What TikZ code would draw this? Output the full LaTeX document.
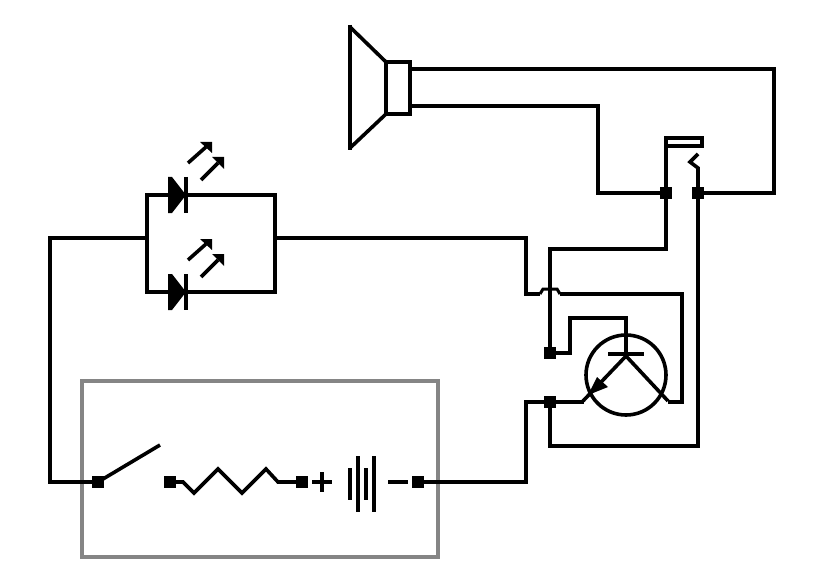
\documentclass[tikz,border=0pt]{standalone}
\begin{document}
\begin{tikzpicture}[x=1pt,y=-1pt,
  wire/.style={line width=4pt,draw=black,line join=miter},
  thin wire/.style={line width=3.6pt,draw=black,line join=miter},
  dot/.style={draw=none,fill=black,minimum size=12pt,inner sep=0pt,outer sep=0pt,rectangle},
  frame/.style={line width=3.4pt,draw=boxgray},
  head/.style={fill=black,draw=none}]
\definecolor{boxgray}{HTML}{858585}
\useasboundingbox (0,0) rectangle (824,564);
\fill[white] (0,0) rectangle (824,564);
% battery box
\node[frame,rectangle,minimum width=356pt,minimum height=176pt,inner sep=0pt,outer sep=0pt] (box) at (260,469) {};
% terminals
\node[dot] (sw1) at (98,482) {};
\node[dot] (r1) at (170,482) {};
\node[dot] (r2) at (302,482) {};
\node[dot] (bat) at (418,482) {};
\node[dot] (rel1) at (666,193) {};
\node[dot] (rel2) at (698,193) {};
\node[dot] (base) at (550,353) {};
\node[dot] (emit) at (550,402) {};
% corners and free ends
\coordinate (swend) at (160,445);
\coordinate (left) at (50,238);
\coordinate (ledL) at (147,238);
\coordinate (ledR) at (275,238);
\coordinate (ledLt) at (147,195);
\coordinate (ledLb) at (147,292);
\coordinate (ledRt) at (275,195);
\coordinate (ledRb) at (275,292);
\coordinate (spkT) at (410,69);
\coordinate (spkB) at (410,106);
% speaker
\draw[wire] (386,62) rectangle (410,114);
\draw[wire] (350,25) -- (350,150);
\draw[thin wire] (350,27) -- (386,62);
\draw[thin wire] (350,148) -- (386,114);
\draw[wire] (spkT) -- (774,69) |- (rel2.center);
\draw[wire] (spkB) -- (598,106) |- (rel1.center);
% relay
\draw[wire] (rel1.center) -- (666,138) -- (702,138) -- (702,146) -- (666,146);
\draw[thin wire] (rel2.center) -- (698,168) -- (690,162) -- (698,154);
\draw[wire] (rel1.center) -- (666,249) -- (550,249) -- (base.center);
\draw[wire] (rel2.center) -- (698,446) -- (550,446) -- (emit.center);
% transistor
\draw[thin wire] (626,375) circle (40);
\draw[wire] (base.center) -- (570,353) -- (570,318) -- (626,318) -- (626,354);
\draw[wire] (608,354) -- (644,354);
\draw[thin wire] (626,356) -- (583,401);
\draw[thin wire] (626,356) -- (668,401);
\fill[head] (597,377) -- (608,387) -- (588,395) -- cycle;
\draw[wire] (emit.center) -- (584,402);
\draw[wire] (668,402) -- (682,402) -- (682,294) -- (560,294);
\draw[line width=3pt,draw=black] (560,294) -- (557,289) -- (543,289) -- (540,294);
\draw[wire] (540,294) -- (526,294) -- (526,238) -- (ledR);
\draw[wire] (emit.center) -- (526,402) -- (526,482) -- (bat.center);
% LEDs
\draw[wire] (ledLt) -- (ledRt) -- (ledRb) -- (ledLb) -- cycle;
\foreach \dy/\nm in {0/a,97/b}{
  \begin{scope}[yshift=-\dy pt]
    \fill[head] (168,177) -- (172,177) -- (186,195) -- (172,213) -- (168,213) -- cycle;
    \draw[wire] (186,177) -- (186,213);
    \draw[thin wire] (188,163) -- (206,147);
    \fill[head] (200,142) -- (212,142) -- (212,153) -- cycle;
    \draw[thin wire] (201,180) -- (218,163);
    \fill[head] (212,157) -- (224,157) -- (224,169) -- cycle;
  \end{scope}
}
% left wire and switch
\draw[wire] (ledL) -- (left) -- (50,482) -- (sw1.center);
\draw[thin wire] (sw1.center) -- (swend);
% resistor
\draw[thin wire] (r1.center) -- (183,482) -- (194,493) -- (218,469) -- (242,493) -- (266,469) -- (278,482) -- (r2.center);
% plus sign
\draw[wire] (312,482) -- (332,482);
\draw[wire] (322,472) -- (322,492);
% battery
\draw[wire] (350,468) -- (350,500);
\draw[wire] (358,456) -- (358,512);
\draw[wire] (366,468) -- (366,500);
\draw[wire] (374,456) -- (374,512);
% minus
\draw[wire] (388,482) -- (408,482);
\end{tikzpicture}
\end{document}
